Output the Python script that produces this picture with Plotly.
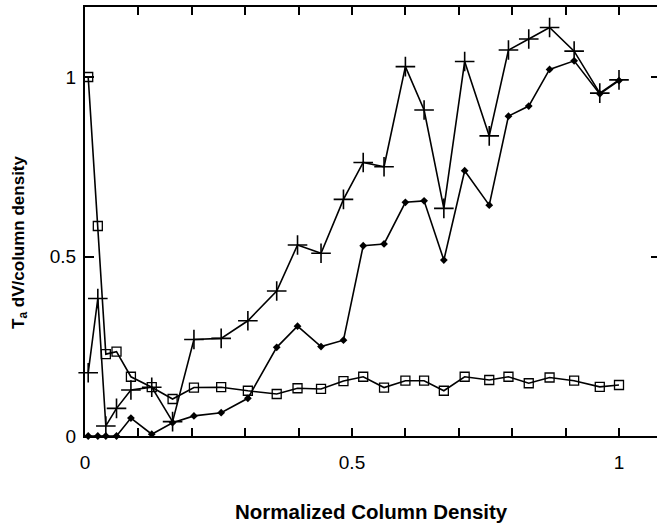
import plotly.graph_objects as go

x = [0.006, 0.024, 0.039, 0.059, 0.086, 0.125, 0.164, 0.204, 0.255, 0.305, 0.359,
     0.398, 0.442, 0.484, 0.521, 0.560, 0.600, 0.635, 0.672, 0.711, 0.757, 0.793,
     0.831, 0.870, 0.916, 0.964, 1.0]
squares = [1.0, 0.585, 0.228, 0.235, 0.165, 0.136, 0.103, 0.135, 0.136, 0.126, 0.117,
           0.133, 0.131, 0.153, 0.165, 0.135, 0.154, 0.154, 0.126, 0.165, 0.156, 0.165,
           0.147, 0.163, 0.154, 0.137, 0.142]
crosses = [0.176, 0.383, 0.028, 0.077, 0.128, 0.136, 0.040, 0.269, 0.272, 0.321, 0.404,
           0.532, 0.509, 0.659, 0.762, 0.750, 1.029, 0.908, 0.634, 1.043, 0.836, 1.075,
           1.106, 1.138, 1.072, 0.955, 0.992]
diamonds = [0.0, 0.0, 0.0, 0.0, 0.05, 0.005, 0.037, 0.056, 0.065, 0.105, 0.247,
            0.306, 0.249, 0.267, 0.530, 0.535, 0.651, 0.655, 0.490, 0.739, 0.643, 0.891,
            0.919, 1.021, 1.045, 0.953, 0.99]

x_ticks = [0, 0.1, 0.2, 0.3, 0.4, 0.5, 0.6, 0.7, 0.8, 0.9, 1.0]
x_ticktext = ["0", "", "", "", "", "0.5", "", "", "", "", "1"]
y_ticks = [0, 0.5, 1]
y_ticktext = ["0", "0.5", "1"]

line = dict(color="black", width=1.6)
fig = go.Figure()
fig.add_trace(go.Scatter(x=x, y=diamonds, mode="lines+markers", line=line,
                         marker=dict(symbol="diamond", size=6, color="black"),
                         cliponaxis=False, showlegend=False))
fig.add_trace(go.Scatter(x=x, y=crosses, mode="lines+markers", line=line,
                         marker=dict(symbol="cross-thin", size=14,
                                     line=dict(color="black", width=1.6)),
                         cliponaxis=False, showlegend=False))
fig.add_trace(go.Scatter(x=x, y=squares, mode="lines+markers", line=line,
                         marker=dict(symbol="square-open", size=9, color="black",
                                     line=dict(width=1.3)),
                         cliponaxis=False, showlegend=False))
fig.add_trace(go.Scatter(x=[0.5], y=[0.5], yaxis="y2", mode="markers",
                         marker=dict(opacity=0), showlegend=False, hoverinfo="skip"))

family = "Liberation Sans, Arial, sans-serif"
tickfont = dict(family=family, size=19, color="black")
fig.update_layout(
    width=657, height=527,
    margin=dict(l=85, r=0, t=7, b=91),
    plot_bgcolor="white", paper_bgcolor="white",
    font=tickfont,
    xaxis=dict(range=[0, 572 / 534], tickvals=x_ticks, ticktext=x_ticktext,
               ticks="inside", ticklen=8, tickwidth=1.6, tickcolor="black",
               showline=True, linecolor="black", linewidth=2, mirror="ticks",
               showgrid=False, zeroline=False, tickfont=tickfont,
               ticklabelstandoff=8),
    yaxis=dict(range=[0, 429 / 359], tickvals=y_ticks, ticktext=y_ticktext,
               ticks="inside", ticklen=9, tickwidth=1.6, tickcolor="black",
               showline=True, linecolor="black", linewidth=2, mirror=False,
               showgrid=False, zeroline=False, tickfont=tickfont, ticklabelstandoff=3),
    yaxis2=dict(range=[0, 429 / 359], overlaying="y", side="right",
                tickvals=y_ticks[1:], ticks="inside", ticklen=6, tickwidth=1.6,
                tickcolor="black", showticklabels=False, showline=False,
                showgrid=False, zeroline=False),
    annotations=[
        dict(text="<b>Normalized Column Density</b>", xref="paper", yref="paper",
             x=0.5, y=-0.177, xanchor="center", yanchor="middle", showarrow=False,
             font=dict(family=family, size=20.5, color="black")),
        dict(text="<b>T<sub>a</sub> dV/column density</b>", xref="paper", yref="paper",
             x=-0.114, y=0.452, xanchor="center", yanchor="middle", showarrow=False,
             textangle=-90, font=dict(family=family, size=17, color="black")),
    ],
)
fig.write_html("out.html")
